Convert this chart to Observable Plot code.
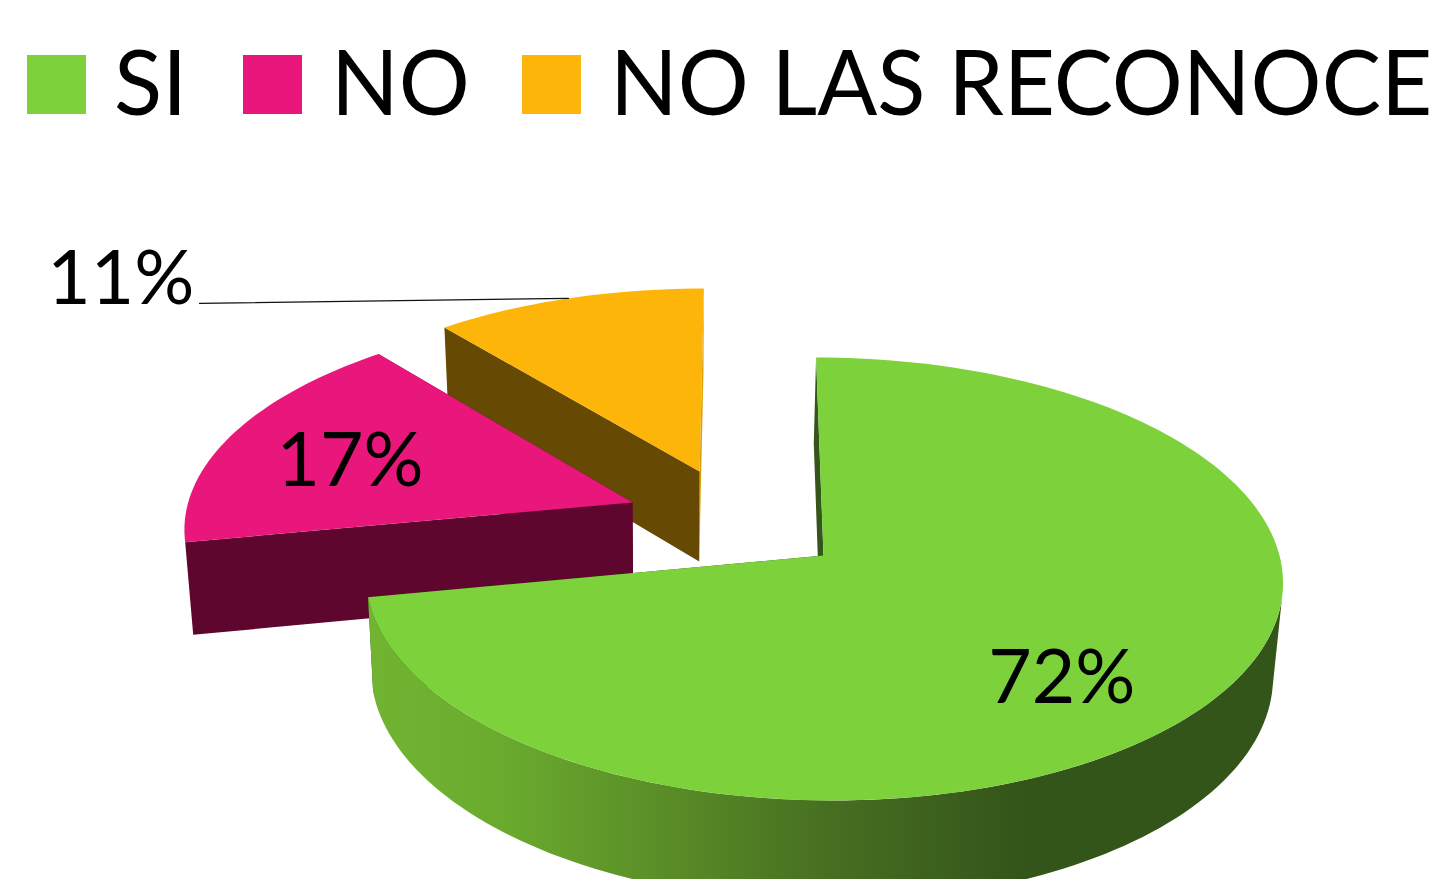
<!doctype html>
<html><head><meta charset="utf-8">
<script src="https://cdn.jsdelivr.net/npm/d3@7"></script>
<script src="https://cdn.jsdelivr.net/npm/@observablehq/plot@0.6"></script>
<style>
html,body{margin:0;padding:0;background:#fff;overflow:hidden;width:1445px;height:879px}
#legend{position:relative;width:1445px;height:150px;font-family:Lato,sans-serif;color:#000}
.sw{position:absolute;top:55px;width:59px;height:59px}
.lb{position:absolute;top:20px;font-size:92px;line-height:120px;white-space:nowrap;transform-origin:left center;transform:scaleX(0.965)}
svg{display:block}
</style></head><body>
<div id="legend"></div>
<div id="chart"></div>
<script>
// Data
const categories = ["SI", "NO", "NO LAS RECONOCE"];
const shares = [72, 17, 11];
const labels = ["72%", "17%", "11%"];
const topColors = ["#7DD13B", "#E9177B", "#FDB509"];
const startFaceColors = ["#35561A", "#5E062E", "#664A04"];
const endFaceColors = ["#35561A", "#5E062E", "#D9A008"];

// Layout of the exploded pseudo-3D pie, in pie units
const view = {cx: 823, cy: 555, rx: 456, ry: 219, k: 0.106, shear: 0.018,
  depth: 93, depthGrow: 0.035, taperX: 675, taper: 0.0164, wallFrom: 101};
const explode = [[0, 0], [-0.4255, -0.2484], [-0.276, -0.40]];
const labelAt = [[0.484, 0.526], [-1.08, -0.455], [-1.754, -1.466]];
const leaderStart = [-1.535, -1.311];
const legendLeft = [27, 243, 522];
const legendText = [114, 331, 610];

function upper([u, v]) {
  const d = 1 - view.k * v;
  return {x: view.cx + view.rx * (u + view.shear * v) / d, y: view.cy + view.ry * v / d};
}
function low(p) {
  return {x: p.x + view.taper * (view.taperX - p.x),
          y: p.y + view.depth + view.depthGrow * (p.y - view.cy)};
}
const rim = (o, deg) => {
  const a = deg * Math.PI / 180;
  return upper([o[0] + Math.sin(a), o[1] - Math.cos(a)]);
};
const arc = (o, a0, a1) => {
  const n = Math.max(2, Math.ceil(Math.abs(a1 - a0) / 1.5));
  return d3.range(n + 1).map(i => rim(o, a0 + (a1 - a0) * i / n));
};
const total = d3.sum(shares);
const stops = [0, ...d3.cumsum(shares)].map(s => s / total * 360);

const poly = (pts, fill) => Plot.line(pts, {x: "x", y: "y", fill, stroke: "none", curve: "linear-closed"});

function sliceMarks(i) {
  const o = explode[i], a0 = stops[i], a1 = stops[i + 1];
  const apex = upper(o), r0 = rim(o, a0), r1 = rim(o, a1);
  const marks = [
    poly([apex, r1, low(r1), low(apex)], endFaceColors[i]),
    poly([apex, r0, low(r0), low(apex)], startFaceColors[i])
  ];
  if (i === 0) {
    // outer wall of the big slice, from its right silhouette round the front
    const a = arc(o, view.wallFrom, a1);
    marks.push(poly([...a, ...a.slice().reverse().map(low)], "url(#wall)"));
  }
  marks.push(poly([apex, ...arc(o, a0, a1)], topColors[i]));
  return marks;
}

const wallDefs = () => {
  const defs = d3.create("svg:defs");
  const g = defs.append("linearGradient").attr("id", "wall")
    .attr("gradientUnits", "userSpaceOnUse")
    .attr("x1", 370).attr("x2", 1020).attr("y1", 0).attr("y2", 0);
  [[0, "#71B431"], [0.2, "#6AAB2E"], [0.42, "#5C9128"], [0.7, "#476F21"], [1, "#34551A"]]
    .forEach(([o, c]) => g.append("stop").attr("offset", o).attr("stop-color", c));
  return defs.node();
};

const leader = [upper(leaderStart), rim(explode[2], (stops[2] + stops[3]) / 2)];
const labelRows = labels.map((text, i) => ({text, ...upper(labelAt[i])}));

const chart = Plot.plot({
  width: 1445, height: 729,
  margin: 0,
  x: {domain: [0, 1445], range: [0, 1445], axis: null},
  y: {domain: [150, 879], range: [0, 729], axis: null},
  style: {background: "#fff"},
  marks: [
    wallDefs,
    ...sliceMarks(2),
    ...sliceMarks(1),
    ...sliceMarks(0),
    Plot.line(leader, {x: "x", y: "y", stroke: "#111", strokeWidth: 1.2}),
    Plot.text(labelRows, {x: "x", y: "y", text: "text", fill: "#000", dy: 2,
      fontFamily: "Lato, sans-serif", fontSize: 75, textAnchor: "middle", lineAnchor: "middle"})
  ]
});
document.getElementById("chart").append(chart);

const legend = d3.select("#legend");
categories.forEach((c, i) => {
  legend.append("div").attr("class", "sw").style("left", legendLeft[i] + "px").style("background", topColors[i]);
  legend.append("div").attr("class", "lb").style("left", legendText[i] + "px").text(c);
});
</script>
</body></html>
